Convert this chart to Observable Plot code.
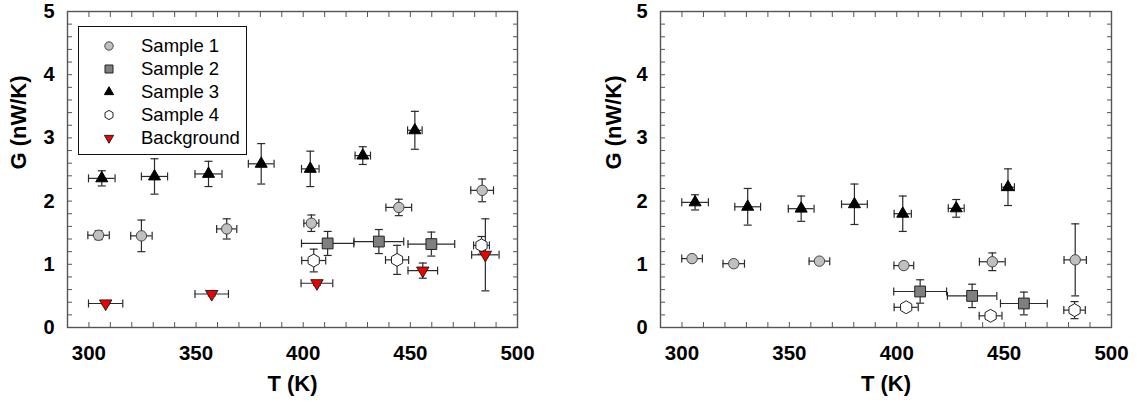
<!DOCTYPE html>
<html>
<head>
<meta charset="utf-8">
<script src="https://cdn.jsdelivr.net/npm/d3@7"></script>
<script src="https://cdn.jsdelivr.net/npm/@observablehq/plot@0.6"></script>
<style>
  html, body { margin: 0; padding: 0; background: #fff; }
  #wrap { position: relative; width: 1137px; height: 408px; overflow: hidden; font-family: "Liberation Sans", Arial, sans-serif; }
  .panel { position: absolute; top: 0; }
  .legend { position: absolute; left: 78px; top: 26px; width: 169px; height: 129px; box-sizing: border-box;
            border: 1px solid #111; background: #fff; padding-top: 8px; font: 18.5px "Liberation Sans", Arial, sans-serif; color: #000; }
  .legend .row { height: 22.8px; display: flex; align-items: center; }
  .legend svg { width: 20px; height: 20px; margin-left: 20px; margin-right: 22px; flex: none; }
</style>
</head>
<body>
<div id="wrap"></div>
<script>
// ---------- data ----------
// axis ticks
const xLabelTicks = [300, 350, 400, 450, 500];
const xMinorTicks = d3.range(290, 501, 10);
const yLabelTicks = [0, 1, 2, 3, 4, 5];
const yMinorTicks = d3.range(0, 26).map(i => i / 5);
const seriesNames = ["Sample 1", "Sample 2", "Sample 3", "Sample 4", "Background"];

// Left panel
const L_s1_T  = [304.5, 324.5, 364.3, 403.8, 444.6, 483.5];
const L_s1_G  = [1.46, 1.45, 1.56, 1.65, 1.90, 2.17];
const L_s1_eT = [5.0, 5.0, 4.7, 3.5, 6.0, 5.3];
const L_s1_eG = [0.07, 0.25, 0.16, 0.13, 0.13, 0.18];

const L_s2_T  = [411.4, 435.3, 459.8];
const L_s2_G  = [1.33, 1.36, 1.32];
const L_s2_eT = [12.2, 11.6, 10.9];
const L_s2_eG = [0.19, 0.19, 0.19];

const L_s3_T  = [306.0, 330.6, 355.8, 380.4, 403.3, 427.8, 452.1];
const L_s3_G  = [2.36, 2.39, 2.43, 2.59, 2.51, 2.72, 3.12];
const L_s3_eT = [6.2, 6.1, 6.3, 6.0, 4.1, 3.6, 3.4];
const L_s3_eG = [0.12, 0.28, 0.20, 0.32, 0.28, 0.14, 0.30];

const L_s4_T  = [404.9, 443.8, 483.2];
const L_s4_G  = [1.06, 1.07, 1.30];
const L_s4_eT = [5.6, 5.4, 3.7];
const L_s4_eG = [0.18, 0.23, 0.14];

const L_bg_T  = [307.8, 357.3, 406.4, 455.8, 485.0];
const L_bg_G  = [0.38, 0.53, 0.70, 0.90, 1.15];
const L_bg_eT = [8.0, 7.8, 7.4, 6.9, 6.4];
const L_bg_eG = [0.02, 0.03, 0.03, 0.12, 0.57];

// Right panel
const R_s1_T  = [304.7, 324.1, 364.0, 403.3, 444.5, 483.1];
const R_s1_G  = [1.09, 1.01, 1.05, 0.98, 1.04, 1.07];
const R_s1_eT = [4.8, 5.0, 4.8, 4.6, 6.0, 5.2];
const R_s1_eG = [0.05, 0.05, 0.04, 0.04, 0.14, 0.57];

const R_s2_T  = [410.9, 435.1, 459.2];
const R_s2_G  = [0.57, 0.50, 0.38];
const R_s2_eT = [12.3, 11.5, 10.9];
const R_s2_eG = [0.185, 0.185, 0.18];

const R_s3_T  = [306.1, 330.6, 355.5, 380.3, 402.8, 427.7, 451.8];
const R_s3_G  = [1.98, 1.91, 1.88, 1.95, 1.80, 1.885, 2.22];
const R_s3_eT = [6.2, 6.0, 6.0, 6.0, 4.0, 3.7, 3.0];
const R_s3_eG = [0.12, 0.29, 0.20, 0.32, 0.28, 0.14, 0.29];

const R_s4_T  = [404.4, 443.7, 482.8];
const R_s4_G  = [0.32, 0.185, 0.275];
const R_s4_eT = [5.6, 5.3, 5.0];
const R_s4_eG = [0.03, 0.03, 0.135];

// ---------- symbols (r = half width) ----------
const rOf = size => Math.sqrt(size / Math.PI);
const capH = { draw(c, s) { const r = rOf(s); c.moveTo(-r, 0); c.lineTo(r, 0); } };
const capV = { draw(c, s) { const r = rOf(s); c.moveTo(0, -r); c.lineTo(0, r); } };
const symCircle = { draw(c, s) { const r = rOf(s); c.moveTo(r, 0); c.arc(0, 0, r, 0, 2 * Math.PI); c.closePath(); } };
const symSquare = { draw(c, s) { const r = rOf(s); c.rect(-r, -r, 2 * r, 2 * r); } };
const symTriUp = { draw(c, s) { const r = rOf(s), h = r * 1.72; c.moveTo(0, -2 * h / 3); c.lineTo(r, h / 3); c.lineTo(-r, h / 3); c.closePath(); } };
const symTriDown = { draw(c, s) { const r = rOf(s), h = r * 1.72; c.moveTo(0, 2 * h / 3); c.lineTo(r, -h / 3); c.lineTo(-r, -h / 3); c.closePath(); } };
const symHex = { draw(c, s) { const r = rOf(s), ry = r * 1.155, hy = ry / 2; c.moveTo(0, -ry); c.lineTo(r, -hy); c.lineTo(r, hy); c.lineTo(0, ry); c.lineTo(-r, hy); c.lineTo(-r, -hy); c.closePath(); } };

const styles = {
  "Sample 1":   { symbol: symCircle,  r: 5.2, fill: "#c0c0c0", stroke: "#444", lr: 4.2 },
  "Sample 2":   { symbol: symSquare,  r: 5.4, fill: "#7f7f7f", stroke: "#222", lr: 4.0 },
  "Sample 3":   { symbol: symTriUp,   r: 6.0, fill: "#000",    stroke: "#000", lr: 4.6 },
  "Sample 4":   { symbol: symHex,     r: 5.6, fill: "#fff",    stroke: "#222", lr: 4.0 },
  "Background": { symbol: symTriDown, r: 6.2, fill: "#ee0000", stroke: "#222", lr: 4.6 }
};

const rows = (T, G, eT, eG) => T.map((t, i) => ({ T: t, G: G[i], eT: eT[i], eG: eG[i] }));

const leftSeries = [
  ["Sample 1", rows(L_s1_T, L_s1_G, L_s1_eT, L_s1_eG)],
  ["Sample 2", rows(L_s2_T, L_s2_G, L_s2_eT, L_s2_eG)],
  ["Sample 3", rows(L_s3_T, L_s3_G, L_s3_eT, L_s3_eG)],
  ["Sample 4", rows(L_s4_T, L_s4_G, L_s4_eT, L_s4_eG)],
  ["Background", rows(L_bg_T, L_bg_G, L_bg_eT, L_bg_eG)]
];
const rightSeries = [
  ["Sample 1", rows(R_s1_T, R_s1_G, R_s1_eT, R_s1_eG)],
  ["Sample 2", rows(R_s2_T, R_s2_G, R_s2_eT, R_s2_eG)],
  ["Sample 3", rows(R_s3_T, R_s3_G, R_s3_eT, R_s3_eG)],
  ["Sample 4", rows(R_s4_T, R_s4_G, R_s4_eT, R_s4_eG)]
];

const eb = "#2a2a2a";
const axisGray = "#555";

function panel(series, { width, marginLeft, marginRight, yLabelDx }) {
  const bars = [], markers = [];
  for (const [name, data] of series) {
    const st = styles[name];
    bars.push(
      Plot.ruleY(data, { y: "G", x1: d => d.T - d.eT, x2: d => d.T + d.eT, stroke: eb, strokeWidth: 1.2 }),
      Plot.ruleX(data, { x: "T", y1: d => d.G - d.eG, y2: d => d.G + d.eG, stroke: eb, strokeWidth: 1.2 }),
      Plot.dot(data, { x: d => d.T - d.eT, y: "G", symbol: capV, r: 4, stroke: eb, fill: "none", strokeWidth: 1.2 }),
      Plot.dot(data, { x: d => d.T + d.eT, y: "G", symbol: capV, r: 4, stroke: eb, fill: "none", strokeWidth: 1.2 }),
      Plot.dot(data, { x: "T", y: d => d.G - d.eG, symbol: capH, r: 4, stroke: eb, fill: "none", strokeWidth: 1.2 }),
      Plot.dot(data, { x: "T", y: d => d.G + d.eG, symbol: capH, r: 4, stroke: eb, fill: "none", strokeWidth: 1.2 })
    );
    markers.push(Plot.dot(data, { x: "T", y: "G", symbol: st.symbol, r: st.r, fill: st.fill, stroke: st.stroke, strokeWidth: 1 }));
  }
  return Plot.plot({
    width, height: 408,
    marginLeft, marginRight, marginTop: 11, marginBottom: 81,
    style: { fontFamily: "'Liberation Sans', Arial, sans-serif", background: "#fff", color: "#000" },
    x: { domain: [290, 500] },
    y: { domain: [0, 5] },
    marks: [
      Plot.frame({ stroke: axisGray, strokeWidth: 1.4 }),
      Plot.axisX({ anchor: "bottom", ticks: xMinorTicks, tickSize: -5, tickFormat: () => "", label: null, stroke: axisGray }),
      Plot.axisX({ anchor: "top", ticks: xMinorTicks, tickSize: -5, tickFormat: () => "", label: null, stroke: axisGray }),
      Plot.axisY({ anchor: "left", ticks: yMinorTicks, tickSize: -5, tickFormat: () => "", label: null, stroke: axisGray }),
      Plot.axisY({ anchor: "right", ticks: yMinorTicks, tickSize: -5, tickFormat: () => "", label: null, stroke: axisGray }),
      Plot.axisX({ anchor: "bottom", ticks: xLabelTicks, tickSize: 0, tickPadding: 18, tickFormat: d3.format("d"), fontSize: 20.5, fontWeight: "bold", label: null }),
      Plot.axisY({ anchor: "left", ticks: yLabelTicks, tickSize: 0, tickPadding: 13, tickFormat: d3.format("d"), fontSize: 20, fontWeight: "bold", label: null }),
      Plot.text(["T (K)"], { text: d => d, frameAnchor: "bottom", dy: 63, fontSize: 22, fontWeight: "bold" }),
      Plot.text(["G (nW/K)"], { text: d => d, frameAnchor: "left", rotate: -90, dx: yLabelDx, fontSize: 22, fontWeight: "bold" }),
      ...bars,
      ...markers
    ]
  });
}

const wrap = document.getElementById("wrap");

const leftDiv = document.createElement("div");
leftDiv.className = "panel"; leftDiv.style.left = "0px";
leftDiv.appendChild(panel(leftSeries, { width: 570, marginLeft: 67, marginRight: 53, yLabelDx: -49 }));
wrap.appendChild(leftDiv);

// legend
const legend = document.createElement("div");
legend.className = "legend";
for (const name of seriesNames) {
  const st = styles[name];
  const row = document.createElement("div");
  row.className = "row";
  const svg = d3.create("svg").attr("viewBox", "-10 -10 20 20");
  svg.append("path")
    .attr("d", d3.symbol().type(st.symbol).size(Math.PI * st.lr * st.lr)())
    .attr("fill", st.fill).attr("stroke", st.stroke).attr("stroke-width", 1);
  row.appendChild(svg.node());
  const span = document.createElement("span");
  span.textContent = name;
  row.appendChild(span);
  legend.appendChild(row);
}
leftDiv.appendChild(legend);

const rightDiv = document.createElement("div");
rightDiv.className = "panel"; rightDiv.style.left = "570px";
rightDiv.appendChild(panel(rightSeries, { width: 567, marginLeft: 90, marginRight: 26, yLabelDx: -47 }));
wrap.appendChild(rightDiv);
</script>
</body>
</html>
